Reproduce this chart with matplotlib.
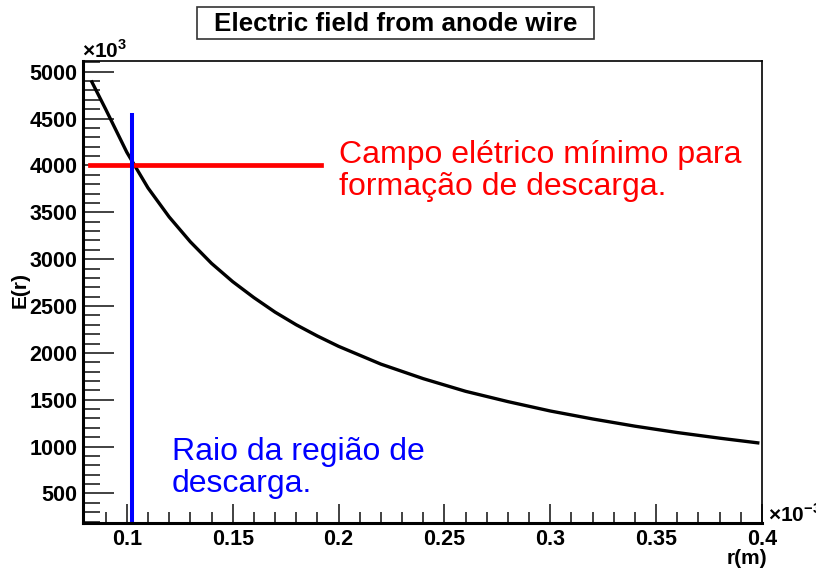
#
# Electric field from anode wire (ROOT style plot)
#
import matplotlib
matplotlib.use("Agg")
import matplotlib.pyplot as plt
from matplotlib.patches import Rectangle
from matplotlib.ticker import MultipleLocator

plt.rcParams['font.family'] = ['Liberation Sans', 'DejaVu Sans']
plt.rcParams['mathtext.fontset'] = 'custom'
plt.rcParams['mathtext.rm'] = 'Liberation Sans:bold'
plt.rcParams['mathtext.bf'] = 'Liberation Sans:bold'

# r in units of 1e-3 m, E in units of 1e3 V/m
r_vals = [0.0835, 0.09, 0.10, 0.11, 0.12, 0.13, 0.14, 0.15, 0.16, 0.17,
          0.18, 0.19, 0.20, 0.22, 0.24, 0.26, 0.28, 0.30, 0.32, 0.34,
          0.36, 0.38, 0.398]
E_vals = [4890, 4600, 4140, 3760, 3450, 3185, 2955, 2760, 2590, 2435,
          2300, 2180, 2070, 1880, 1725, 1590, 1480, 1380, 1295, 1218,
          1150, 1090, 1040]

E_min = 4000                     # campo mínimo
E_min_span = [0.0826, 0.1916]
r_desc = 0.1025                  # raio da região de descarga
r_desc_top = 4540

fig = plt.figure(figsize=(8.16, 5.69), dpi=100)
ax = fig.add_axes([83/816, 1-523/569, (762-83)/816, (523-61)/569])

ax.plot(r_vals, E_vals, color='black', lw=2.4, solid_joinstyle='miter')
ax.plot(E_min_span, [E_min, E_min], color='#ff0000', lw=3.4)
ax.plot([r_desc, r_desc], [185, r_desc_top], color='#0000ff', lw=2.9)

ax.set_xlim(0.0793, 0.4)
ax.set_ylim(185, 5114)

ax.xaxis.set_major_locator(MultipleLocator(0.05))
ax.xaxis.set_minor_locator(MultipleLocator(0.01))
ax.yaxis.set_major_locator(MultipleLocator(500))
ax.yaxis.set_minor_locator(MultipleLocator(100))
ax.set_xticks([0.1, 0.15, 0.2, 0.25, 0.3, 0.35, 0.4])
ax.set_xticklabels(['0.1', '0.15', '0.2', '0.25', '0.3', '0.35', '0.4'])
ax.set_yticks(range(500, 5001, 500))

ax.tick_params(axis='both', which='both', direction='in', top=False, right=False,
               color='#333333')
ax.tick_params(axis='y', which='major', length=22, width=1.3, pad=4, labelsize=15.5)
ax.tick_params(axis='y', which='minor', length=12, width=1.3)
ax.tick_params(axis='x', which='major', length=14, width=1.3, pad=4, labelsize=15.5)
ax.tick_params(axis='x', which='minor', length=8, width=1.3)
for lab in ax.get_xticklabels() + ax.get_yticklabels():
    lab.set_fontweight('bold')

ax.spines['left'].set_linewidth(2.2)
ax.spines['bottom'].set_linewidth(2.2)
ax.spines['top'].set_linewidth(1.2)
ax.spines['right'].set_linewidth(1.2)

# axis titles and exponents
fig.text(20/816, 1-290/569, 'E(r)', rotation=90, ha='center', va='center',
         fontsize=15, fontweight='bold')
fig.text(767/816, 1-564/569, 'r(m)', ha='right', va='baseline',
         fontsize=15, fontweight='bold')
fig.text(82/816, 1-58/569, r'$\times10^{3}$', ha='left', va='baseline', fontsize=15)
fig.text(768/816, 1-522/569, r'$\times10^{-3}$', ha='left', va='baseline', fontsize=15)

# title box
fig.patches.append(Rectangle((197/816, 1-39/569), (594-197)/816, 32/569,
                             transform=fig.transFigure, fill=False,
                             edgecolor='#333333', lw=1.2))
fig.text(396/816, 1-24/569, 'Electric field from anode wire', ha='center',
         va='center', fontsize=18.7, fontweight='bold')

# annotations (va='baseline' pins the last line)
fig.text(339/816, 1-195/569, 'Campo elétrico mínimo para\nformação de descarga.',
         ha='left', va='baseline', fontsize=23, color='#ff0000', linespacing=1.07)
fig.text(172/816, 1-492/569, 'Raio da região de\ndescarga.',
         ha='left', va='baseline', fontsize=23, color='#0000ff', linespacing=1.07)

fig.savefig('out.png', dpi=100)
